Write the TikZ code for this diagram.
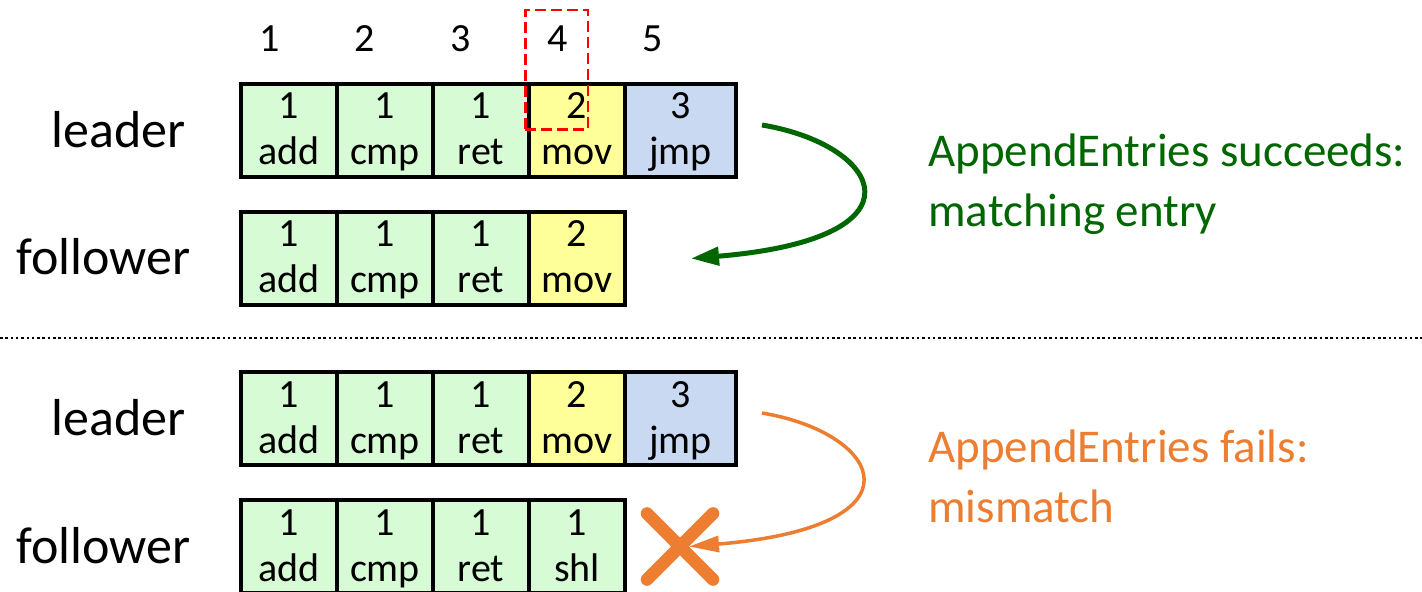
\documentclass[tikz,border=0pt]{standalone}
\usepackage{fontspec}
\setmainfont{Carlito}
\usetikzlibrary{arrows.meta,calc}

\definecolor{cellgreen}{RGB}{215,251,212}
\definecolor{cellyellow}{RGB}{255,255,153}
\definecolor{cellblue}{RGB}{202,217,242}
\definecolor{okgreen}{RGB}{0,102,0}
\definecolor{failorange}{RGB}{237,125,49}

% term on the first line, command on the second
\newcommand\logentry[2]{\rule{0pt}{16pt}#1\\#2\rule[-4.5pt]{0pt}{4.5pt}}

\tikzset{
  logcell/.style={draw=black, line width=2pt, minimum width=48pt,
    minimum height=46.5pt, inner sep=0pt, align=center,
    font=\fontsize{20}{23}\selectfont},
  widecell/.style={logcell, minimum width=55.5pt},
  gcell/.style={logcell, fill=cellgreen},
  ycell/.style={logcell, fill=cellyellow},
  bcell/.style={widecell, fill=cellblue},
  idx/.style={anchor=base, font=\fontsize{20}{23}\selectfont},
  role/.style={anchor=base, font=\fontsize{26}{30}\selectfont},
  note/.style={anchor=base west, align=left, inner sep=0pt,
    font=\fontsize{23.5}{30}\selectfont},
  okarrow/.style={draw=okgreen, line width=2.5pt,
    -{Triangle[length=14pt,width=9pt]}},
  failarrow/.style={draw=failorange, line width=1.75pt,
    -{Triangle[length=15pt,width=8pt]}},
}

\begin{document}
\begin{tikzpicture}[x=0.5pt, y=-0.5pt]
  \clip (0,0) rectangle (1422,592);

  % log indices
  \node[idx] (i1) at (270,52) {1};
  \node[idx] (i2) at (365,52) {2};
  \node[idx] (i3) at (461,52) {3};
  \node[idx] (i4) at (558,52) {4};
  \node[idx] (i5) at (653,52) {5};

  % upper case: leader and follower logs agree at index 4
  \node[role] (lead1) at (118.5,148) {leader};
  \node[role] (foll1) at (103.5,275) {follower};

  \node[gcell] (L1) at (289,130.5)   {\logentry{1}{add}};
  \node[gcell] (L2) at (385,130.5)   {\logentry{1}{cmp}};
  \node[gcell] (L3) at (481,130.5)   {\logentry{1}{ret}};
  \node[ycell] (L4) at (577,130.5)   {\logentry{2}{mov}};
  \node[bcell] (L5) at (680.5,130.5) {\logentry{3}{jmp}};

  \node[gcell] (F1) at (289,258.5) {\logentry{1}{add}};
  \node[gcell] (F2) at (385,258.5) {\logentry{1}{cmp}};
  \node[gcell] (F3) at (481,258.5) {\logentry{1}{ret}};
  \node[ycell] (F4) at (577,258.5) {\logentry{2}{mov}};

  % consistency check on entry 4
  \node[draw=red, line width=1.25pt, dash pattern=on 5.5pt off 2.5pt,
        minimum width=31.25pt, minimum height=59.75pt, inner sep=0pt]
        (hl) at (556.5,70) {};

  \coordinate (gs) at ([xshift=12pt,yshift=2.75pt]L5.east);
  \coordinate (ge) at ([xshift=32pt]F4.east);
  \draw[okarrow] (gs) .. controls ($(gs)+(120,20)$) and ($(ge)+(240,-20)$) .. (ge);

  \node[note, text=okgreen] (ok) at (928,227)
    {AppendEntries succeeds:\\matching entry};

  % separator
  \coordinate (sepL) at (0,338);
  \coordinate (sepR) at (1422,338);
  \draw[line width=1.25pt, dash pattern=on 1.25pt off 1.4pt] (sepL) -- (sepR);

  % lower case: follower holds a conflicting entry at index 4
  \node[role] (lead2) at (118.5,436) {leader};
  \node[role] (foll2) at (103.5,563) {follower};

  \node[gcell] (M1) at (289,418.5)   {\logentry{1}{add}};
  \node[gcell] (M2) at (385,418.5)   {\logentry{1}{cmp}};
  \node[gcell] (M3) at (481,418.5)   {\logentry{1}{ret}};
  \node[ycell] (M4) at (577,418.5)   {\logentry{2}{mov}};
  \node[bcell] (M5) at (680.5,418.5) {\logentry{3}{jmp}};

  \node[gcell] (N1) at (289,546.5) {\logentry{1}{add}};
  \node[gcell] (N2) at (385,546.5) {\logentry{1}{cmp}};
  \node[gcell] (N3) at (481,546.5) {\logentry{1}{ret}};
  \node[gcell] (N4) at (577,546.5) {\logentry{1}{shl}};

  % rejection mark
  \coordinate (xc) at ([xshift=26.5pt]N4.east);
  \draw[failorange, line width=6.3pt, line cap=round]
    ($(xc)+(-33,-33)$) -- ($(xc)+(33,33)$)
    ($(xc)+(33,-33)$) -- ($(xc)+(-33,33)$);

  \coordinate (os) at ([xshift=12pt,yshift=2.75pt]M5.east);
  \coordinate (oe) at ([xshift=31pt]N4.east);
  \draw[failarrow] (os) .. controls ($(os)+(120,20)$) and ($(oe)+(240,-20)$) .. (oe);

  \node[note, text=failorange] (fail) at (928,522)
    {AppendEntries fails:\\mismatch};
\end{tikzpicture}
\end{document}
